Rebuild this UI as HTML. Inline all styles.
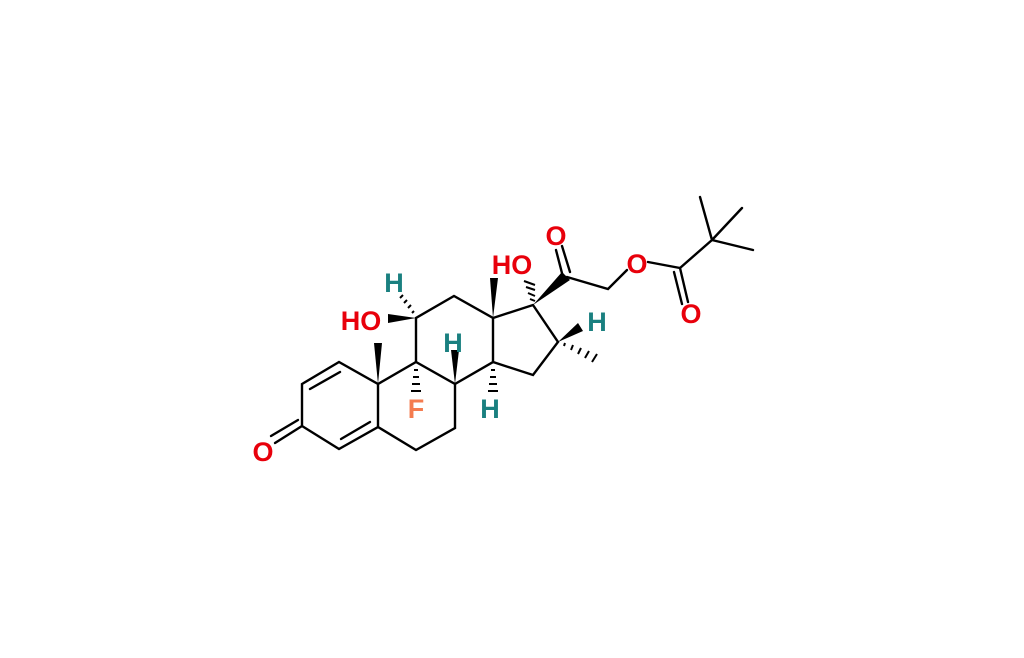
<!DOCTYPE html>
<html><head><style>body{margin:0;background:#fff}svg{display:block}text{font-family:"Liberation Sans",Arial,sans-serif;font-weight:bold;font-size:27px}</style></head><body>
<svg width="1024" height="658" viewBox="0 0 1024 658" xmlns="http://www.w3.org/2000/svg">
<g stroke="#000" stroke-width="2.4" fill="none" stroke-linecap="round">
<path d="M339,362 L302,384 L302,426 L339,449 L378,427 L378,384 Z"/>
<path d="M340,372 L310,389"/>
<path d="M341,439 L370,422"/>
<path d="M302,426 L275,443 M298,420 L271,436"/>
<path d="M378,427 L416,450 L455,428 L455,384 L416,362 L378,384"/>
<path d="M416,362 L416,318 L454,296 L493,318 L493,362 L455,384"/>
<path d="M493,318 L533,305 L558,342 L533,375 L493,362"/>
<path d="M567,277 L608,289 L627,270"/>
<path d="M570,272 L562,246 M563,277 L556,250"/>
<path d="M648,262 L680,268 L712,240 L700,197 M712,240 L742,208 M712,240 L753,250"/>
<path d="M680,268 L688,302 M674,272 L682,304"/>
</g>
<g fill="#000">
<polygon points="533,305 562,272 570,280"/>
<polygon points="493,318 490,278 498,278"/>
<polygon points="558,342 578,323 583,331"/>
<polygon points="455,384 451,350 459,350"/>
<polygon points="378,384 374,343 382,343"/>
<polygon points="416,318 388,314 388,323"/>
</g>
<g stroke="#000" stroke-width="2">
<path d="M530,299 L535,301 M528,293 L535,296 M526,287 L535,290 M524,281 L535,285"/>
<path d="M564,346 L565,343 M571,350 L573,345 M578,354 L581,348 M585,358 L589,351 M592,362 L597,354"/>
<path d="M491,370 L495,370 M490,377 L496,377 M489,384 L497,384 M488,391 L498,391"/>
<path d="M414,370 L418,370 M413,377 L419,377 M412,384 L420,384 M411,391 L421,391"/>
<path d="M412,313 L414,311 M408,308 L411,305 M404,303 L407,300 M400,298 L403,295"/>
</g>
<g text-anchor="middle">
<text x="263" y="461" fill="#e8000b">O</text>
<text x="361" y="330" fill="#e8000b">HO</text>
<text x="394" y="292" fill="#1a8080">H</text>
<text x="453" y="352" fill="#1a8080">H</text>
<text x="416" y="418" fill="#f47c50">F</text>
<text x="490" y="418" fill="#1a8080">H</text>
<text x="512" y="274" fill="#e8000b">HO</text>
<text x="556" y="245" fill="#e8000b">O</text>
<text x="597" y="331" fill="#1a8080">H</text>
<text x="637" y="273" fill="#e8000b">O</text>
<text x="691" y="323" fill="#e8000b">O</text>
</g>
</svg>
</body></html>
